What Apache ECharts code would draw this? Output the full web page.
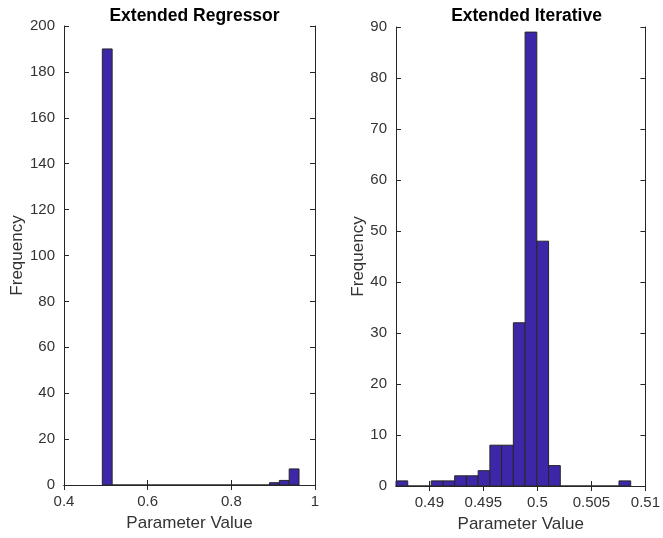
<!DOCTYPE html>
<html>
<head>
<meta charset="utf-8">
<script src="https://cdn.jsdelivr.net/npm/echarts@6/dist/echarts.min.js"></script>
<style>
  html, body { margin: 0; background: #fff; }
  #chart { width: 663px; height: 538px; }
</style>
</head>
<body>
<div id="chart"></div>
<script>
// histogram counts, 20 bins each
const regressorCounts = [190, 0, 0, 0, 0, 0, 0, 0, 0, 0, 0, 0, 0, 0, 0, 0, 0, 1, 2, 7];
const regressorBinStart = 0.4916;
const regressorBinWidth = 0.02351;

const iterativeCounts = [1, 0, 0, 1, 1, 2, 2, 3, 8, 8, 32, 89, 48, 4, 0, 0, 0, 0, 0, 1];
const iterativeBinStart = 0.48691;
const iterativeBinWidth = 0.0010865;

const regressorXTicks = [0.4, 0.6, 0.8, 1];
const iterativeXTicks = [0.49, 0.495, 0.5, 0.505, 0.51];

const BAR_COLOR = '#3e26a8';
const EDGE_COLOR = '#262626';
const AXIS_COLOR = '#262626';
const LABEL_COLOR = '#333';
const FONT = 'Liberation Sans, Arial, sans-serif';

function toBins(counts, start, width) {
  return counts.map((c, i) => [start + i * width, start + (i + 1) * width, c]);
}

function histItem(params, api) {
  const p0 = api.coord([api.value(0), api.value(2)]);
  const p1 = api.coord([api.value(1), 0]);
  return {
    type: 'rect',
    shape: { x: p0[0], y: p0[1], width: p1[0] - p0[0], height: p1[1] - p0[1] },
    style: { fill: BAR_COLOR, stroke: EDGE_COLOR, lineWidth: 1 },
  };
}

const line = { show: true, lineStyle: { color: AXIS_COLOR, width: 1 } };
const tick = { show: true, inside: true, length: 5, lineStyle: { color: AXIS_COLOR } };
const label = { color: LABEL_COLOR, fontSize: 15, fontFamily: FONT, margin: 9 };
const nameStyle = { color: LABEL_COLOR, fontSize: 17, fontFamily: FONT };

function xAxes(grid, min, max, ticks) {
  const base = {
    type: 'value', gridIndex: grid, min, max,
    splitLine: { show: false }, axisLine: line,
  };
  return [
    Object.assign({}, base, {
      position: 'bottom',
      axisTick: Object.assign({ customValues: ticks }, tick),
      axisLabel: Object.assign({ customValues: ticks }, label),
      name: 'Parameter Value', nameLocation: 'middle', nameGap: 30, nameTextStyle: nameStyle,
    }),
    Object.assign({}, base, {
      position: 'top',
      axisTick: Object.assign({ customValues: ticks }, tick),
      axisLabel: { show: false },
    }),
  ];
}

function yAxes(grid, max, interval, gap) {
  const base = {
    type: 'value', gridIndex: grid, min: 0, max, interval,
    splitLine: { show: false }, axisLine: line, axisTick: tick,
  };
  return [
    Object.assign({}, base, {
      position: 'left', axisLabel: label,
      name: 'Frequency', nameLocation: 'middle', nameGap: gap, nameTextStyle: nameStyle,
    }),
    Object.assign({}, base, { position: 'right', axisLabel: { show: false } }),
  ];
}

const titleStyle = { fontSize: 17.5, fontWeight: 'bold', fontFamily: FONT, color: '#000' };

const chart = echarts.init(document.getElementById('chart'), null, { renderer: 'canvas' });
chart.setOption({
  animation: false,
  backgroundColor: '#fff',
  title: [
    { text: 'Extended Regressor', left: 189.5, top: 2, textAlign: 'center', textStyle: titleStyle },
    { text: 'Extended Iterative', left: 521.5, top: 2, textAlign: 'center', textStyle: titleStyle },
  ],
  grid: [
    { left: 64, top: 26, width: 251, height: 459 },
    { left: 396, top: 27, width: 251, height: 459 },
  ],
  xAxis: [
    ...xAxes(0, 0.4, 1, regressorXTicks),
    ...xAxes(1, iterativeBinStart, 0.51, iterativeXTicks),
  ],
  yAxis: [
    ...yAxes(0, 200, 20, 38),
    ...yAxes(1, 90, 10, 28),
  ],
  series: [
    {
      type: 'custom', xAxisIndex: 0, yAxisIndex: 0,
      renderItem: histItem, encode: { x: [0, 1], y: 2 },
      data: toBins(regressorCounts, regressorBinStart, regressorBinWidth),
    },
    {
      type: 'custom', xAxisIndex: 2, yAxisIndex: 2,
      renderItem: histItem, encode: { x: [0, 1], y: 2 },
      data: toBins(iterativeCounts, iterativeBinStart, iterativeBinWidth),
    },
  ],
});
</script>
</body>
</html>
